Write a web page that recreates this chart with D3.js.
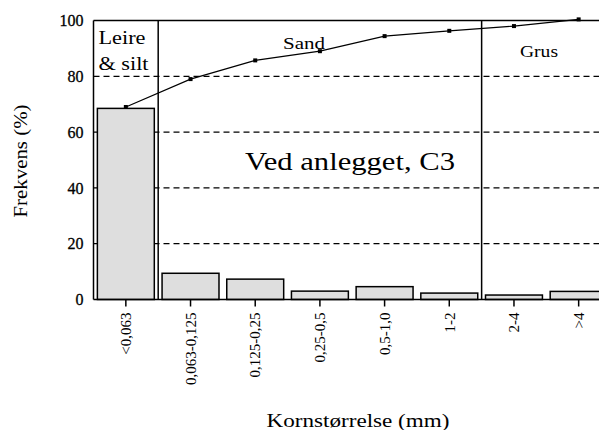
<!DOCTYPE html>
<html>
<head>
<meta charset="utf-8">
<script src="https://d3js.org/d3.v7.min.js"></script>
<style>
  body { margin: 0; background: #fff; }
  svg { display: block; font-family: "Liberation Serif", serif; }
</style>
</head>
<body>
<svg width="599" height="430"></svg>
<script>

// data
var categories = ["<0,063", "0,063-0,125", "0,125-0,25", "0,25-0,5", "0,5-1,0", "1-2", "2-4", ">4"];
var frekvens = [68.5, 9.4, 7.3, 3.0, 4.6, 2.3, 1.6, 2.9];
var kumulativ = [69, 79, 85.7, 89, 94.4, 96.3, 98, 100.4];
var yTicks = [0, 20, 40, 60, 80, 100];
var grupper = [
  {navn: ["Leire", "& silt"], fra: 0, til: 1},
  {navn: ["Sand"], fra: 1, til: 6},
  {navn: ["Grus"], fra: 6, til: 8}
];

var svg = d3.select("svg");
var plotL = 93.5, plotT = 20.5, plotB = 299.5, plotR = 611;

var x = d3.scaleBand().domain(categories).range([plotL, plotR])
  .paddingInner(0.12).paddingOuter(0.06);
var y = d3.scaleLinear().domain([0, 100]).range([plotB, plotT]);
var step = x.step();

// gridlines (behind bars)
svg.append("g").selectAll("line")
  .data(yTicks.filter(function(d) { return d > 0 && d < 100; }))
  .enter().append("line")
  .attr("x1", plotL).attr("x2", 599)
  .attr("y1", function(d) { return y(d); })
  .attr("y2", function(d) { return y(d); })
  .attr("stroke", "#000").attr("stroke-width", 1.3)
  .attr("stroke-dasharray", "6,4");

// bars
svg.append("g").selectAll("rect")
  .data(frekvens).enter().append("rect")
  .attr("x", function(d, i) { return x(categories[i]); })
  .attr("y", function(d) { return y(d); })
  .attr("width", x.bandwidth())
  .attr("height", function(d) { return plotB - y(d); })
  .attr("fill", "#dedede").attr("stroke", "#000").attr("stroke-width", 1.5);

// group dividers
var bandEdge = function(i) { return plotL + x.paddingOuter() * step - x.paddingInner() * step / 2 + i * step; };
svg.append("g").selectAll("line")
  .data([1, 6]).enter().append("line")
  .attr("x1", function(d) { return bandEdge(d); })
  .attr("x2", function(d) { return bandEdge(d); })
  .attr("y1", plotT).attr("y2", plotB)
  .attr("stroke", "#000").attr("stroke-width", 1.5);

// frame: left axis, top line
svg.append("line").attr("x1", plotL).attr("x2", plotL).attr("y1", plotT).attr("y2", plotB)
  .attr("stroke", "#000").attr("stroke-width", 1.5);
svg.append("line").attr("x1", plotL).attr("x2", 599).attr("y1", plotT).attr("y2", plotT)
  .attr("stroke", "#000").attr("stroke-width", 1.5);

// y axis
var yAxis = svg.append("g").attr("transform", "translate(" + plotL + ",0)")
  .call(d3.axisLeft(y).tickValues(yTicks).tickSize(0).tickPadding(10));
yAxis.select(".domain").remove();
yAxis.selectAll("text").attr("font-size", 16).attr("font-family", "Liberation Serif")
  .attr("fill", "#000").attr("stroke", "#000").attr("stroke-width", 0.3);

// x axis
var xAxis = svg.append("g").attr("transform", "translate(0," + plotB + ")")
  .call(d3.axisBottom(x).tickSize(7).tickSizeOuter(0));
xAxis.select(".domain").attr("stroke-width", 1.5).attr("d", "M" + plotL + ",0H599");
xAxis.selectAll(".tick line").attr("stroke-width", 1.5);
xAxis.selectAll("text")
  .attr("font-size", 15).attr("font-family", "Liberation Serif").attr("fill", "#000")
  .attr("transform", "rotate(-90)")
  .attr("text-anchor", "end")
  .attr("x", -13).attr("y", 0).attr("dy", "0.35em");

// cumulative line
var line = d3.line()
  .x(function(d, i) { return x(categories[i]) + x.bandwidth() / 2; })
  .y(function(d) { return y(d); });
svg.append("path").datum(kumulativ).attr("d", line)
  .attr("fill", "none").attr("stroke", "#000").attr("stroke-width", 1.2);
svg.append("g").selectAll("rect")
  .data(kumulativ).enter().append("rect")
  .attr("x", function(d, i) { return x(categories[i]) + x.bandwidth() / 2 - 2; })
  .attr("y", function(d) { return y(d) - 2; })
  .attr("width", 4).attr("height", 4).attr("fill", "#000");

// group labels
var stretch = function(sel, len) {
  return sel.attr("textLength", len).attr("lengthAdjust", "spacingAndGlyphs");
};
grupper.forEach(function(g) {
  if (g.navn.length > 1) {
    g.navn.forEach(function(s, k) {
      stretch(svg.append("text").attr("font-size", 18).attr("fill", "#000")
        .attr("x", bandEdge(g.fra) + 5).attr("y", k ? 70 : 44).text(s), k ? 50 : 47);
    });
  } else {
    var sand = g.navn[0] === "Sand";
    stretch(svg.append("text").attr("font-size", 17).attr("fill", "#000")
      .attr("text-anchor", "middle").attr("x", sand ? 304 : 539)
      .attr("y", sand ? 49 : 57).text(g.navn[0]), sand ? 42 : 38);
  }
});

// title inside plot
stretch(svg.append("text").attr("x", 350).attr("y", 170).attr("text-anchor", "middle")
  .attr("font-size", 26).attr("fill", "#000").text("Ved anlegget, C3"), 210);

// axis titles
stretch(svg.append("text").attr("transform", "translate(27,161) rotate(-90)")
  .attr("text-anchor", "middle").attr("font-size", 18).attr("fill", "#000")
  .text("Frekvens (%)"), 113);
stretch(svg.append("text").attr("x", 358).attr("y", 427).attr("text-anchor", "middle")
  .attr("font-size", 18).attr("fill", "#000").text("Kornstørrelse (mm)"), 183);

</script>
</body>
</html>
